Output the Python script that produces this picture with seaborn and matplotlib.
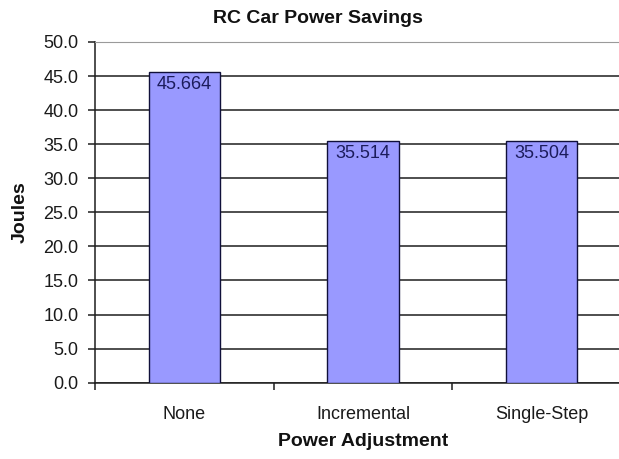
import matplotlib
matplotlib.use("Agg")
import matplotlib.pyplot as plt
import seaborn as sns
from matplotlib.ticker import FixedLocator, MultipleLocator, FormatStrFormatter

# Energy used by the RC car under each power-adjustment scheme
categories = ["None", "Incremental", "Single-Step"]
joules = [45.664, 35.514, 35.504]
value_labels = ["45.664", "35.514", "35.504"]

sns.set_style("white")
plt.rcParams["font.family"] = ["Liberation Sans", "DejaVu Sans"]

W, H = 619, 459
fig = plt.figure(figsize=(W / 100, H / 100), dpi=100)
fig.patch.set_facecolor("white")

# Plot area (pixel geometry; it runs slightly past the right edge)
left, right, top, bottom = 95, 631, 42, 382.7
ax = fig.add_axes([left / W, (H - bottom) / H, (right - left) / W, (bottom - top) / H])

sns.barplot(x=categories, y=joules, color="#9999FF", saturation=1,
            edgecolor="#10103a", linewidth=1.0, width=0.4, ax=ax, zorder=3)

ax.set_xlim(-0.5, 2.5)
ax.set_ylim(0, 50)

# Horizontal gridlines
ax.yaxis.set_major_locator(MultipleLocator(5))
ax.yaxis.set_major_formatter(FormatStrFormatter("%.1f"))
ax.grid(axis="y", color="#1e1e1e", linewidth=1.1)
ax.set_axisbelow(True)

for s in ["right"]:
    ax.spines[s].set_visible(False)
ax.spines["top"].set_color("#9a9a9a")
ax.spines["top"].set_zorder(4)
ax.spines["left"].set_color("#1e1e1e")
ax.spines["bottom"].set_color("#1e1e1e")
ax.spines["left"].set_linewidth(1.1)
ax.spines["bottom"].set_linewidth(1.1)

# Category separators as tick marks below the axis
ax.xaxis.set_minor_locator(FixedLocator([-0.5, 0.5, 1.5, 2.5]))
ax.tick_params(axis="x", which="minor", bottom=True, length=5, width=1.1, color="#1e1e1e")
ax.tick_params(axis="x", which="major", bottom=True, length=0, pad=17,
               labelsize=13, labelcolor="#1a1a1a")
ax.tick_params(axis="y", which="major", left=True, length=5, width=1.1,
               color="#1e1e1e", pad=7, labelsize=13, labelcolor="#1a1a1a")

# Value labels just inside the top of each bar
for i, (v, t) in enumerate(zip(joules, value_labels)):
    ax.annotate(t, xy=(i, v), xytext=(0, -13), textcoords="offset pixels",
                ha="center", va="center", fontsize=13, color="#1c1c5c", zorder=5)

ax.set_xlabel("Power Adjustment", fontsize=14, fontweight="bold", color="#111111")
ax.xaxis.set_label_coords(0.5, -0.148)
ax.set_ylabel("Joules", fontsize=14, fontweight="bold", color="#111111")
ax.yaxis.set_label_coords(-0.123, 0.5)

fig.text(318 / W, (H - 23.3) / H, "RC Car Power Savings", ha="center", va="baseline",
         fontsize=14, fontweight="bold", color="#111111")

fig.savefig("out.png", dpi=100, facecolor="white")
